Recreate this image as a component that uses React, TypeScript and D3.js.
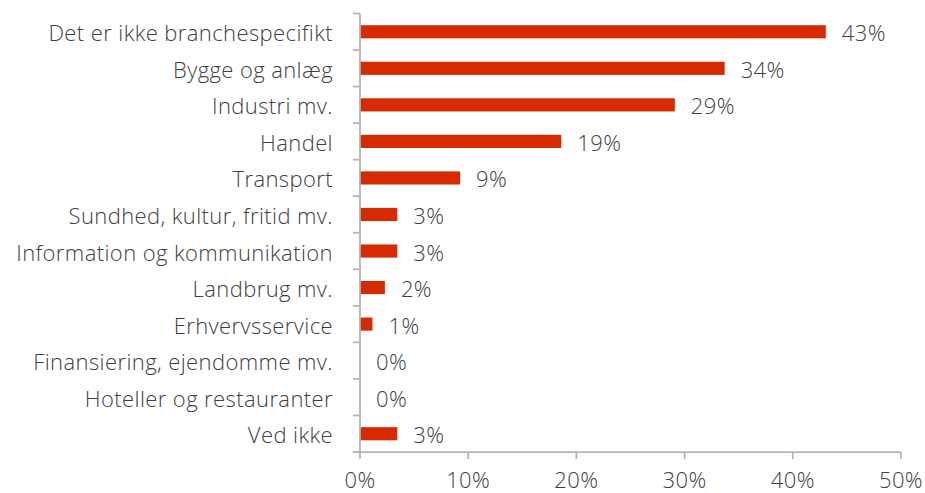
import React from "react";
import * as d3 from "d3";

const categories = [
  "Det er ikke branchespecifikt",
  "Bygge og anlæg",
  "Industri mv.",
  "Handel",
  "Transport",
  "Sundhed, kultur, fritid mv.",
  "Information og kommunikation",
  "Landbrug mv.",
  "Erhvervsservice",
  "Finansiering, ejendomme mv.",
  "Hoteller og restauranter",
  "Ved ikke",
];
const values = [43.05, 33.7, 29.1, 18.6, 9.25, 3.45, 3.45, 2.3, 1.15, 0, 0, 3.45];
const valueLabels = ["43%", "34%", "29%", "19%", "9%", "3%", "3%", "2%", "1%", "0%", "0%", "3%"];
const xTicks = [0, 10, 20, 30, 40, 50];

const W = 925;
const H = 493;
const FONT = "'Open Sans', Lato, sans-serif";
const TEXT = "#404040";
const AXIS = "#b4b4b4";
const BAR = "#d62a00";
const FS = 22;
const LS = 0.4;

export default function App() {
  const x = d3.scaleLinear().domain([0, 50]).range([360, 901]);
  const y = d3
    .scaleBand<string>()
    .domain(categories)
    .range([13.5, 452])
    .paddingInner(0.64)
    .paddingOuter(0.32);
  const step = y.step();
  const top = 13.5;
  const bottom = 452;
  const bw = y.bandwidth();

  return (
    <svg width={W} height={H} style={{ position: "absolute", left: 0, top: 0 }} fontFamily={FONT}>
      <rect width={W} height={H} fill="#fff" />
      {categories.map((c, i) => {
        const yy = y(c)!;
        const cy = yy + bw / 2;
        return (
          <g key={c}>
            <rect x={x(0)} y={yy} width={x(values[i]) - x(0)} height={bw} fill={BAR} />
            <text
              x={333}
              y={cy + 9.5}
              textAnchor="end"
              fontSize={FS}
              fontWeight={300}
              letterSpacing={LS}
              fill={TEXT}
            >
              {c}
            </text>
            <text
              x={x(values[i]) + 16}
              y={cy + 9.5}
              fontSize={FS}
              fontWeight={300}
              letterSpacing={LS}
              fill={TEXT}
            >
              {valueLabels[i]}
            </text>
          </g>
        );
      })}
      {/* y axis */}
      <line x1={x(0)} x2={x(0)} y1={top} y2={bottom} stroke={AXIS} strokeWidth={1.75} />
      {d3.range(categories.length + 1).map((i) => (
        <line
          key={"yt" + i}
          x1={x(0) - 7}
          x2={x(0)}
          y1={top + i * step}
          y2={top + i * step}
          stroke={AXIS}
          strokeWidth={1.75}
        />
      ))}
      {/* x axis */}
      <line x1={x(0) - 7} x2={x(50)} y1={bottom} y2={bottom} stroke={AXIS} strokeWidth={1.75} />
      {xTicks.map((t) => (
        <g key={"xt" + t}>
          <line x1={x(t)} x2={x(t)} y1={bottom} y2={bottom + 7} stroke={AXIS} strokeWidth={1.75} />
          <text
            x={x(t)}
            y={488}
            textAnchor="middle"
            fontSize={FS}
            fontWeight={300}
            letterSpacing={LS}
            fill={TEXT}
          >
            {t + "%"}
          </text>
        </g>
      ))}
    </svg>
  );
}
